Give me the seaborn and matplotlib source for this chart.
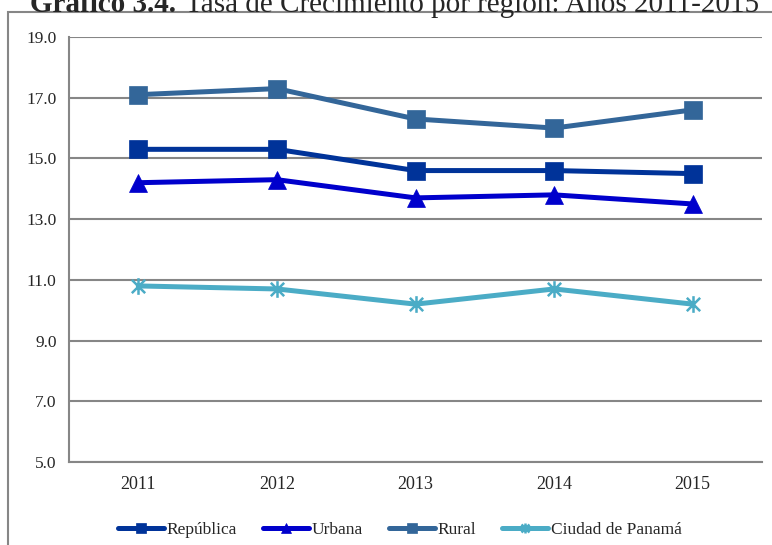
import pandas as pd
import seaborn as sns
import matplotlib.pyplot as plt
from matplotlib.patches import Rectangle
from matplotlib.path import Path

# Data
years = ['2011', '2012', '2013', '2014', '2015']
republica = [15.3, 15.3, 14.6, 14.6, 14.5]
urbana = [14.2, 14.3, 13.7, 13.8, 13.5]
rural = [17.1, 17.3, 16.3, 16.0, 16.6]
ciudad = [10.8, 10.7, 10.2, 10.7, 10.2]
series_names = ['República', 'Urbana', 'Rural', 'Ciudad de Panamá']

# Excel-like star marker: vertical bar plus an X
star = Path([(0, -1), (0, 1), (-0.8, -0.8), (0.8, 0.8), (-0.8, 0.8), (0.8, -0.8)],
            [Path.MOVETO, Path.LINETO, Path.MOVETO, Path.LINETO, Path.MOVETO, Path.LINETO])

colors = ['#003399', '#0000CC', '#336699', '#4BACC6']
markers = ['s', '^', 's', star]
msizes = [12.5, 12.5, 12.5, 12]

df = pd.DataFrame({
    'pos': list(range(len(years))) * 4,
    'valor': republica + urbana + rural + ciudad,
    'serie': [s for s in series_names for _ in years],
})

sns.set_style('white')
plt.rcParams['font.family'] = ['Liberation Serif', 'DejaVu Serif']

fig = plt.figure(figsize=(7.72, 5.45), dpi=100)
ax = fig.add_axes([69 / 772, 1 - 462 / 545, (762 - 69) / 772, (462 - 37) / 545])

for name, col, mk, ms in zip(series_names, colors, markers, msizes):
    sub = df[df['serie'] == name]
    sns.lineplot(data=sub, x='pos', y='valor', color=col, marker=mk,
                 markersize=ms, markeredgecolor=col, markerfacecolor=col,
                 markeredgewidth=1.8 if mk is star else 0.5,
                 linewidth=3.6, ax=ax, label=name, zorder=3)

ax.set_xlim(-0.5, 4.5)
ax.set_ylim(5, 19)
yticks = [5, 7, 9, 11, 13, 15, 17, 19]
ax.set_yticks(yticks)
ax.set_yticklabels([f'{v:.1f}' for v in yticks], fontsize=12.5)
ax.set_xticks(range(len(years)))
ax.set_xticklabels(years, fontsize=13)
ax.set_xticks([-0.5, 0.5, 1.5, 2.5, 3.5, 4.5], minor=True)
ax.tick_params(axis='x', which='major', length=0, pad=10)
ax.tick_params(axis='x', which='minor', length=5, width=1.5, color='#868686', direction='out')
ax.tick_params(axis='y', length=5, width=1.5, color='#868686', direction='out', pad=4)
ax.set_xlabel('')
ax.set_ylabel('')

ax.yaxis.grid(True, color='#868686', linewidth=1.5)
ax.set_axisbelow(True)
for side in ['top', 'right']:
    ax.spines[side].set_visible(False)
for side in ['left', 'bottom']:
    ax.spines[side].set_color('#868686')
    ax.spines[side].set_linewidth(1.5)

leg = ax.legend(loc='upper center', bbox_to_anchor=(0.477, -0.105), ncol=4, frameon=False,
                fontsize=12.5, handlelength=2.65, columnspacing=1.5, handletextpad=0.15,
                markerscale=0.6)

# outer frame around the chart area (cut by the image edges)
fig.patches.append(Rectangle((8 / 772, -0.05), 1.2, 1 - 12 / 545 + 0.05, transform=fig.transFigure,
                             fill=False, edgecolor='#868686', linewidth=1.5))

# title, partly cut off at the top like in the reference
fig.text(30 / 772, 1 - 12 / 545, 'Gráfico 3.4.', fontsize=21, fontweight='bold', va='baseline', ha='left')
fig.text(185 / 772, 1 - 12 / 545, 'Tasa de Crecimiento por región: Años 2011-2015', fontsize=21,
         va='baseline', ha='left')

fig.savefig('out.png', dpi=100)
